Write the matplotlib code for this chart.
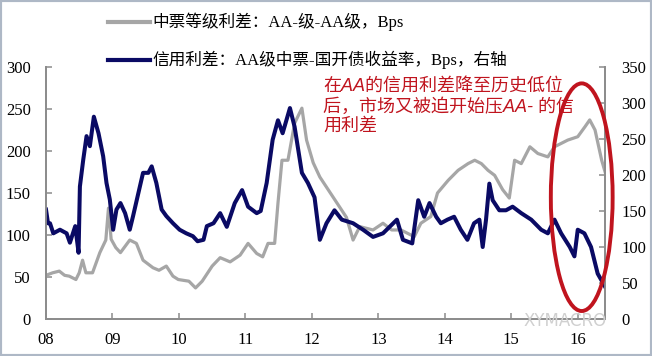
import matplotlib
matplotlib.use('Agg')
import matplotlib.pyplot as plt
from matplotlib.lines import Line2D
from matplotlib.patches import Ellipse, Rectangle

plt.rcParams['font.family'] = ['Liberation Serif', 'Noto Sans CJK SC']

# gray: AA- minus AA spread (left axis)
gray_t = [2008.00, 2008.10, 2008.20, 2008.28, 2008.35, 2008.45, 2008.50, 2008.55, 2008.60, 2008.70,
          2008.81, 2008.90, 2008.94, 2008.98, 2009.05, 2009.12, 2009.26, 2009.36, 2009.46, 2009.61,
          2009.70, 2009.81, 2009.91, 2009.99, 2010.15, 2010.25, 2010.35, 2010.50, 2010.62, 2010.77,
          2010.92, 2011.04, 2011.17, 2011.26, 2011.34, 2011.44, 2011.49, 2011.55, 2011.64, 2011.74,
          2011.85, 2011.92, 2012.02, 2012.12, 2012.22, 2012.32, 2012.42, 2012.52, 2012.62, 2012.72,
          2012.92, 2013.07, 2013.20, 2013.34, 2013.54, 2013.64, 2013.79, 2013.89, 2014.05, 2014.20,
          2014.35, 2014.45, 2014.55, 2014.65, 2014.75, 2014.87, 2014.97, 2015.05, 2015.15, 2015.28,
          2015.40, 2015.55, 2015.65, 2015.85, 2016.00, 2016.11, 2016.18, 2016.26, 2016.36, 2016.43]
gray_v = [52, 55, 57, 52, 51, 47, 55, 70, 55, 55,
          79, 94, 132, 95, 85, 79, 94, 90, 70, 61,
          58, 63, 51, 47, 45, 37, 45, 63, 73, 68,
          76, 90, 78, 74, 90, 90, 138, 189, 189, 233,
          251, 213, 186, 169, 157, 145, 133, 121, 94, 110,
          106, 114, 106, 106, 98, 114, 122, 150, 165, 177,
          185, 189, 185, 177, 171, 154, 144, 189, 185, 205,
          197, 193, 205, 213, 217, 229, 237, 225, 189, 170]

# navy: AA MTN minus CDB yield (right axis)
navy_t = [2008.00, 2008.03, 2008.06, 2008.11, 2008.21, 2008.31, 2008.36, 2008.44, 2008.49, 2008.51,
          2008.56, 2008.61, 2008.66, 2008.72, 2008.79, 2008.86, 2008.91, 2008.96, 2009.01, 2009.06,
          2009.12, 2009.19, 2009.26, 2009.31, 2009.39, 2009.46, 2009.54, 2009.59, 2009.66, 2009.74,
          2009.81, 2009.91, 2010.01, 2010.11, 2010.21, 2010.28, 2010.37, 2010.42, 2010.52, 2010.62,
          2010.72, 2010.84, 2010.95, 2011.04, 2011.17, 2011.23, 2011.32, 2011.41, 2011.49, 2011.56,
          2011.67, 2011.74, 2011.85, 2011.94, 2012.04, 2012.12, 2012.22, 2012.34, 2012.45, 2012.62,
          2012.77, 2012.92, 2013.07, 2013.28, 2013.37, 2013.51, 2013.60, 2013.69, 2013.77, 2013.87,
          2013.94, 2014.04, 2014.14, 2014.24, 2014.34, 2014.44, 2014.52, 2014.57, 2014.62, 2014.67,
          2014.72, 2014.82, 2014.92, 2015.02, 2015.15, 2015.30, 2015.45, 2015.55, 2015.65, 2015.75,
          2015.88, 2015.95, 2016.00, 2016.10, 2016.20, 2016.30, 2016.38, 2016.41]
navy_v = [152, 133, 133, 119, 124, 119, 106, 129, 92, 184,
          221, 254, 240, 281, 258, 226, 189, 166, 124, 152,
          161, 147, 124, 143, 175, 203, 203, 212, 189, 152,
          143, 133, 124, 119, 115, 108, 110, 129, 133, 147,
          128, 161, 179, 156, 147, 150, 189, 249, 276, 258,
          293, 267, 203, 189, 169, 110, 133, 151, 138, 133,
          124, 114, 119, 138, 110, 105, 165, 142, 161, 142,
          133, 138, 142, 124, 110, 133, 138, 100, 138, 188,
          165, 151, 151, 156, 147, 138, 124, 119, 138, 119,
          100, 87, 124, 119, 100, 63, 50, 45]

years = list(range(2008, 2017))
year_labels = ['08', '09', '10', '11', '12', '13', '14', '15', '16']

legend1 = '中票等级利差：AA-级-AA级，Bps'
legend2 = '信用利差：AA级中票-国开债收益率，Bps，右轴'
note = '在AA的信用利差降至历史低位\n后，市场又被迫开始压AA- 的信\n用利差'

gray_c = '#A6A6A6'
navy_c = '#0A0A64'
red_c = '#C0141E'
spine_c = '#8C8C8C'

fig = plt.figure(figsize=(6.52, 3.56), dpi=100)
ax = fig.add_axes([46/652, 1-319/356, (605-46)/652, (319-67)/356])
ax2 = ax.twinx()

ax.plot(gray_t, gray_v, color=gray_c, lw=2.3, solid_joinstyle='round')
ax2.plot(navy_t, navy_v, color=navy_c, lw=2.9, solid_joinstyle='round')

ax.set_xlim(2008, 2016.41)
ax.set_ylim(0, 300)
ax2.set_ylim(0, 350)
ax.set_xticks(years)
ax.set_xticklabels(year_labels)
ax.set_yticks(range(0, 301, 50))
ax2.set_yticks(range(0, 351, 50))

for a in (ax, ax2):
    a.spines['top'].set_visible(False)
    for s in ('left', 'right', 'bottom'):
        a.spines[s].set_color(spine_c)
        a.spines[s].set_linewidth(1.3)
    a.tick_params(direction='in', length=4, width=1.1, color=spine_c, labelsize=12)
ax.tick_params(axis='y', pad=11)
ax.tick_params(axis='x', pad=9)
ax2.tick_params(axis='y', pad=12)

# circled region
ell = Ellipse((2016.06, 145 * 350 / 300), 0.93, 271 * 350 / 300, fill=False,
              edgecolor=red_c, lw=2.8, clip_on=False, zorder=5)
ax2.add_patch(ell)

fig.text(323/652, 1-78/356, note, color=red_c, fontsize=13, style='italic',
         family=['Liberation Sans', 'Noto Sans CJK SC'], va='top', ha='left',
         linespacing=1.2)

# legend at the top
for yy, col, lab in ((22, gray_c, legend1), (60, navy_c, legend2)):
    fig.add_artist(Line2D([108/652, 150/652], [1-yy/356, 1-yy/356], color=col, lw=3,
                          transform=fig.transFigure))
    fig.text(152/652, 1-yy/356, lab, fontsize=12, va='center', ha='left')

# watermark
fig.text(523/652, 1-321/356, 'XYMACRO', fontsize=12, color='#D0D0D0',
         family='DejaVu Sans', va='center', ha='left')

fig.add_artist(Rectangle((0, 0), 1, 1, transform=fig.transFigure, fill=False,
                         edgecolor='#AEB8C6', lw=3))

fig.savefig('out.png', dpi=100)
